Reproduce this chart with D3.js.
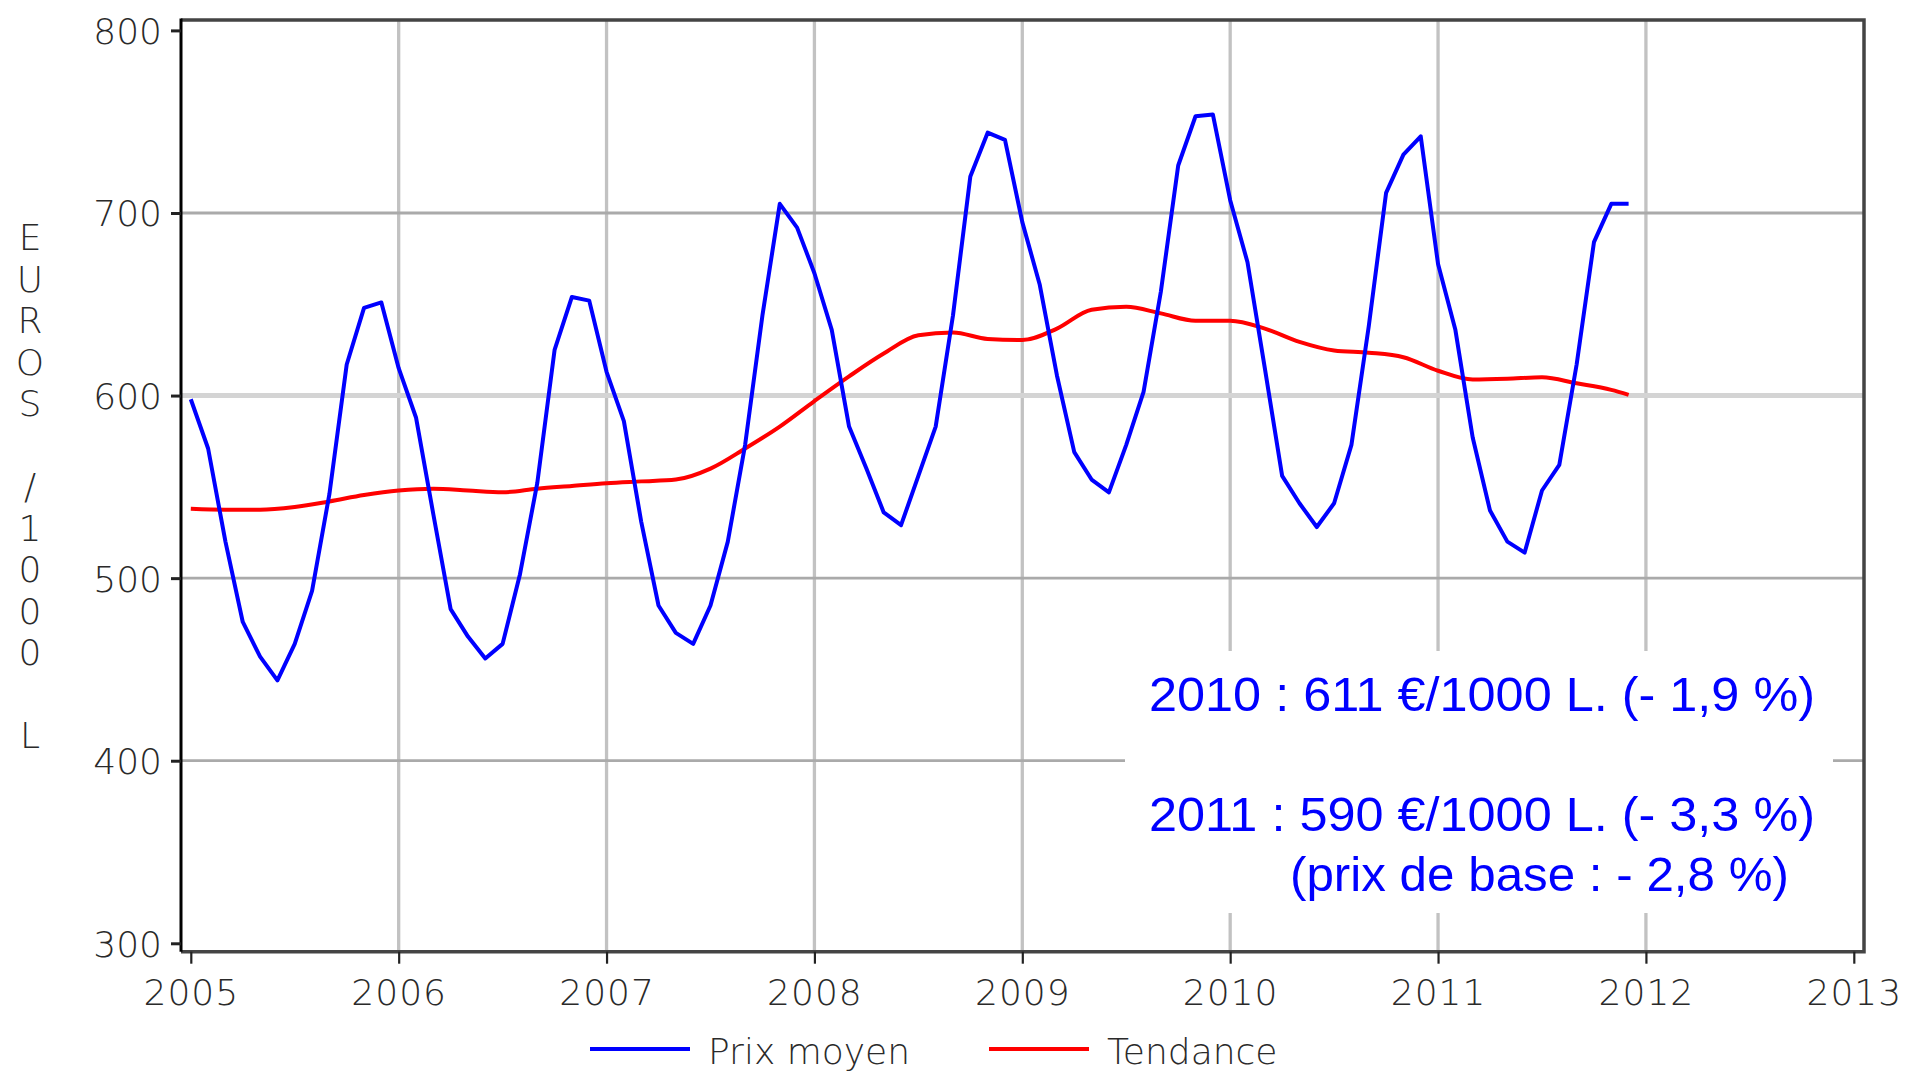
<!DOCTYPE html>
<html>
<head>
<meta charset="utf-8">
<script src="https://cdn.jsdelivr.net/npm/d3@7"></script>
<style>
  body { margin: 0; background: #fff; }
  svg { display: block; }
  .axis text { font-family: "DejaVu Sans", sans-serif; font-size: 36px; font-weight: 300; fill: #2a2a2a; }
  .axis line { stroke: #222; }
  .axis path { display: none; }
</style>
</head>
<body>
<div id="chart"></div>
<script>
const width = 1906;
const height = 1072;

// monthly average price, Jan 2005 -> Dec 2011 (euros / 1000 L)
const priceValues = [
  598, 571, 520, 476, 457, 444, 464, 493, 546, 617, 648, 651,
  615, 588, 535, 483, 468, 456, 464, 502, 552, 625, 654, 652,
  613, 586, 531, 485, 470, 464, 485, 520, 573, 644, 705, 692,
  667, 636, 583, 560, 536, 529, 556, 583, 644, 720, 744, 740,
  695, 661, 611, 569, 554, 547, 573, 602, 657, 726, 753, 754,
  707, 673, 615, 556, 541, 528, 541, 573, 638, 711, 732, 742,
  672, 636, 577, 537, 520, 514, 548, 562, 617, 684, 705, 705
];

// trend, read every two months (month index from Jan 2005)
const trendMonths = [
  0, 2, 4, 6, 8, 10, 12, 14, 16, 18, 20, 22,
  24, 26, 28, 30, 32, 34, 36, 38, 40, 42, 44, 46,
  48, 50, 52, 54, 56, 58, 60, 62, 64, 66, 68, 70,
  72, 74, 76, 78, 80, 82, 83
];
const trendValues = [
  538, 537.5, 537.5, 539, 542, 545.5, 548, 549, 548, 547, 549, 550.5,
  552, 553, 554, 560, 571, 583, 597, 610.5, 623, 633, 634.6, 631,
  630.4, 636.7, 647, 648.6, 645, 641, 641, 636.7, 629.4, 624.7, 623.5, 621,
  613.6, 608.8, 609.2, 610, 606.7, 603.1, 600.4
];

const startYear = 2005;
const yearTicks = [2005, 2006, 2007, 2008, 2009, 2010, 2011, 2012, 2013];
const valueTicks = [300, 400, 500, 600, 700, 800];
const gridYears = [2006, 2007, 2008, 2009, 2010, 2011, 2012];
const gridValues = [400, 500, 600, 700];
const axisLabel = 'EUROS /1000 L';

const legendItems = [
  { label: 'Prix moyen', color: '#0000ff' },
  { label: 'Tendance', color: '#ff0000' }
];

const notes = [
  { text: '2010 : 611 €/1000 L. (- 1,9 %)', x: 1149, y: 711, len: 666 },
  { text: '2011 : 590 €/1000 L. (- 3,3 %)', x: 1149, y: 831, len: 666 },
  { text: '(prix de base : - 2,8 %)', x: 1290, y: 891, len: 499 }
];

const box = { left: 181, right: 1864, top: 20, bottom: 951.7 };

const svg = d3.select('#chart').append('svg')
  .attr('width', width)
  .attr('height', height);

const x = d3.scaleLinear()
  .domain([2005, 2013])
  .range([190.8, 1853.8]);

const y = d3.scaleLinear()
  .domain([300, 800])
  .range([943.3, 30.4]);

// grid
svg.append('g')
  .selectAll('line')
  .data(gridYears)
  .join('line')
  .attr('x1', d => x(d))
  .attr('x2', d => x(d))
  .attr('y1', box.top)
  .attr('y2', box.bottom)
  .attr('stroke', '#c2c2c2')
  .attr('stroke-width', 3.3);

svg.append('g')
  .selectAll('line')
  .data(gridValues)
  .join('line')
  .attr('x1', box.left)
  .attr('x2', box.right)
  .attr('y1', d => y(d))
  .attr('y2', d => y(d))
  .attr('stroke', d => d === 600 ? '#d4d4d4' : '#aaaaaa')
  .attr('stroke-width', d => d === 600 ? 5 : 2.8);

// white box behind the notes
svg.append('rect')
  .attr('x', 1125)
  .attr('y', 651)
  .attr('width', 708)
  .attr('height', 262)
  .attr('fill', '#fff');

// frame
svg.append('path')
  .attr('d', `M${box.left},${box.top}H${box.right}V${box.bottom}H${box.left}`)
  .attr('fill', 'none')
  .attr('stroke', '#444')
  .attr('stroke-width', 3.5);

svg.append('line')
  .attr('x1', box.left).attr('x2', box.left)
  .attr('y1', box.top - 1.5).attr('y2', box.bottom)
  .attr('stroke', '#000')
  .attr('stroke-width', 3);

// axes
svg.append('g')
  .attr('class', 'axis')
  .attr('transform', `translate(${box.left},0)`)
  .call(d3.axisLeft(y).tickValues(valueTicks).tickSize(10).tickPadding(9))
  .call(g => g.selectAll('line').attr('stroke-width', 3))
  .call(g => g.selectAll('text').attr('dy', '0.36em'));

svg.append('g')
  .attr('class', 'axis')
  .attr('transform', `translate(0,${box.bottom})`)
  .call(d3.axisBottom(x).tickValues(yearTicks).tickFormat(d3.format('d')).tickSize(12).tickPadding(16))
  .call(g => g.selectAll('line').attr('stroke-width', 2.2))
  .call(g => g.selectAll('text').attr('letter-spacing', 1));

// vertical axis title, one letter per row
svg.append('g')
  .selectAll('text')
  .data(axisLabel.split(''))
  .join('text')
  .attr('x', 30)
  .attr('y', (d, i) => 250 + i * 41.5)
  .attr('text-anchor', 'middle')
  .attr('font-family', 'DejaVu Sans, sans-serif')
  .attr('font-size', 36)
  .attr('font-weight', 300)
  .attr('fill', '#2a2a2a')
  .text(d => d);

// series
const monthX = m => x(startYear + m / 12);

const priceLine = d3.line()
  .x((d, i) => monthX(i))
  .y(d => y(d));

const trendLine = d3.line()
  .x((d, i) => monthX(trendMonths[i]))
  .y(d => y(d))
  .curve(d3.curveMonotoneX);

svg.append('path')
  .datum(trendValues)
  .attr('d', trendLine)
  .attr('fill', 'none')
  .attr('stroke', '#ff0000')
  .attr('stroke-width', 4);

svg.append('path')
  .datum(priceValues)
  .attr('d', priceLine)
  .attr('fill', 'none')
  .attr('stroke', '#0000ff')
  .attr('stroke-width', 4)
  .attr('stroke-linejoin', 'round');

// notes
svg.append('g')
  .selectAll('text')
  .data(notes)
  .join('text')
  .attr('x', d => d.x)
  .attr('y', d => d.y)
  .attr('textLength', d => d.len)
  .attr('lengthAdjust', 'spacingAndGlyphs')
  .attr('font-family', 'Liberation Sans, Arial, sans-serif')
  .attr('font-size', 47.5)
  .attr('fill', '#0000ff')
  .text(d => d.text);

// legend
const legend = svg.append('g')
  .selectAll('g')
  .data(legendItems)
  .join('g')
  .attr('transform', (d, i) => `translate(${590 + i * 399},1049)`);

legend.append('line')
  .attr('x1', 0)
  .attr('x2', 100)
  .attr('stroke', d => d.color)
  .attr('stroke-width', 4);

legend.append('text')
  .attr('x', 118)
  .attr('y', 15)
  .attr('font-family', 'DejaVu Sans, sans-serif')
  .attr('font-size', 36)
  .attr('font-weight', 300)
  .attr('fill', '#2a2a2a')
  .text(d => d.label);
</script>
</body>
</html>
